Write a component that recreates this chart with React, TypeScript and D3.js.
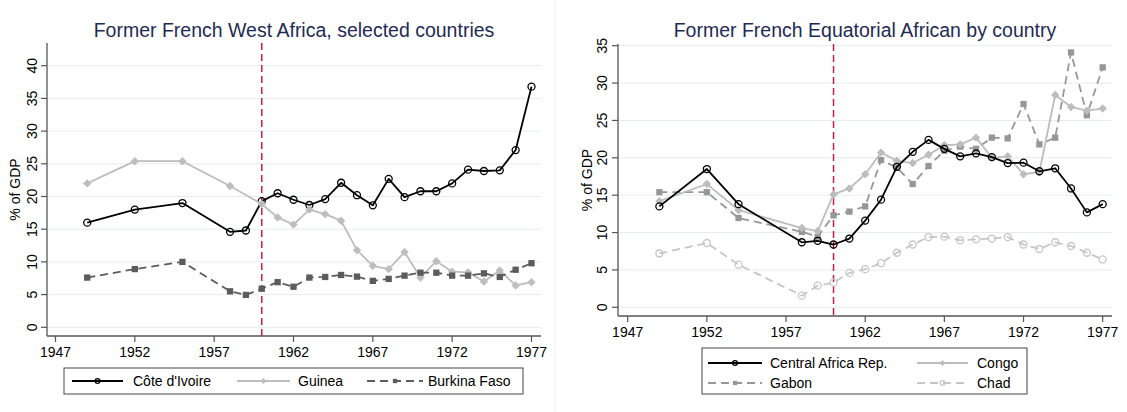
import React from "react";
import * as d3 from "d3";

// ---------- DATA ----------
const westYears = [1949, 1952, 1955, 1958, 1959, 1960, 1961, 1962, 1963, 1964, 1965, 1966, 1967, 1968, 1969, 1970, 1971, 1972, 1973, 1974, 1975, 1976, 1977];
const coteDIvoire = [16.0, 18.0, 19.0, 14.6, 14.8, 19.3, 20.5, 19.5, 18.7, 19.6, 22.1, 20.2, 18.65, 22.7, 19.9, 20.8, 20.8, 22.0, 24.1, 23.9, 24.0, 27.1, 36.8];
const guineaYears = [1949, 1952, 1955, 1958, 1960, 1961, 1962, 1963, 1964, 1965, 1966, 1967, 1968, 1969, 1970, 1971, 1972, 1973, 1974, 1975, 1976, 1977];
const guinea = [22.0, 25.4, 25.4, 21.6, 18.85, 16.8, 15.7, 18.0, 17.3, 16.3, 11.8, 9.4, 8.9, 11.5, 7.6, 10.1, 8.5, 8.4, 7.0, 8.7, 6.4, 6.9];
const burkinaFaso = [7.6, 8.9, 10.0, 5.5, 4.95, 5.9, 6.9, 6.2, 7.6, 7.7, 8.0, 7.75, 7.1, 7.4, 7.9, 8.35, 8.35, 7.9, 7.9, 8.25, 7.7, 8.8, 9.8];

const eqYears = [1949, 1952, 1954, 1958, 1959, 1960, 1961, 1962, 1963, 1964, 1965, 1966, 1967, 1968, 1969, 1970, 1971, 1972, 1973, 1974, 1975, 1976, 1977];
const centralAfricaRep = [13.5, 18.5, 13.8, 8.7, 8.9, 8.4, 9.2, 11.6, 14.4, 18.8, 20.8, 22.4, 21.2, 20.2, 20.6, 20.1, 19.3, 19.35, 18.2, 18.6, 15.9, 12.7, 13.8];
const congo = [14.2, 16.5, 13.0, 10.6, 10.2, 15.1, 15.9, 17.8, 20.7, 19.6, 19.3, 20.4, 21.7, 21.8, 22.7, 20.0, 20.2, 17.8, 18.1, 28.4, 26.8, 26.3, 26.6];
const gabon = [15.4, 15.4, 11.95, 10.1, 9.45, 12.3, 12.8, 13.5, 19.7, 18.7, 16.5, 18.9, 20.95, 21.5, 21.2, 22.7, 22.6, 27.2, 21.8, 22.7, 34.1, 25.7, 32.1];
const chad = [7.2, 8.6, 5.7, 1.56, 2.9, 3.3, 4.6, 5.1, 5.9, 7.3, 8.4, 9.4, 9.45, 8.96, 9.1, 9.2, 9.4, 8.4, 7.8, 8.7, 8.2, 7.3, 6.4];

const xTicks = [1947, 1952, 1957, 1962, 1967, 1972, 1977];
const westYTicks = [0, 5, 10, 15, 20, 25, 30, 35, 40];
const eqYTicks = [0, 5, 10, 15, 20, 25, 30, 35];
const independenceYear = 1960;

const westTitle = "Former French West Africa, selected countries";
const eqTitle = "Former French Equatorial African by country";
const yLabel = "% of GDP";

// ---------- STYLE ----------
const FONT = "'Liberation Sans', Arial, Helvetica, sans-serif";
const TITLE_COLOR = "#1f2b55";
const GRID = "#e3edef";
const AXIS = "#555";

type Marker = "circle" | "diamond" | "square";
interface Series {
  name: string;
  years: number[];
  values: number[];
  color: string;
  dash?: string;
  marker: Marker;
  width: number;
}

function MarkerShape({ type, x, y, color, size }: { type: Marker; x: number; y: number; color: string; size: number }) {
  if (type === "circle") {
    return <circle cx={x} cy={y} r={size} fill="none" stroke={color} strokeWidth={1.3} />;
  }
  if (type === "diamond") {
    const s = size * 1.2;
    return <path d={`M${x},${y - s}L${x + s},${y}L${x},${y + s}L${x - s},${y}Z`} fill={color} />;
  }
  const s = size * 0.9;
  return <rect x={x - s} y={y - s} width={2 * s} height={2 * s} fill={color} />;
}

interface PanelProps {
  title: string;
  titleX: number;
  x0: number; // pixel of 1947
  x1: number; // pixel of 1977
  axisX: number;
  plotRight: number;
  plotTop: number;
  axisY: number;
  yMax: number;
  yTop: number; // pixel of yMax
  yZero: number; // pixel of 0
  yTicks: number[];
  tickLabelX: number;
  yLabelX: number;
  series: Series[];
}

function Panel(p: PanelProps) {
  const x = d3.scaleLinear().domain([1947, 1977]).range([p.x0, p.x1]);
  const y = d3.scaleLinear().domain([0, p.yMax]).range([p.yZero, p.yTop]);
  const yMid = (p.plotTop + p.axisY) / 2;
  return (
    <g>
      <text x={p.titleX} y={37} textAnchor="middle" fontSize={19.5} fill={TITLE_COLOR} fontFamily={FONT}>
        {p.title}
      </text>
      {p.yTicks.map((t) => (
        <line key={"g" + t} x1={p.axisX} x2={p.plotRight} y1={y(t)} y2={y(t)} stroke={GRID} strokeWidth={1} />
      ))}
      {/* axes */}
      <line x1={p.axisX} x2={p.axisX} y1={p.plotTop} y2={p.axisY} stroke={AXIS} strokeWidth={1.3} />
      <line x1={p.axisX} x2={p.plotRight} y1={p.axisY} y2={p.axisY} stroke={AXIS} strokeWidth={1.3} />
      {p.yTicks.map((t) => (
        <g key={"yt" + t}>
          <line x1={p.axisX - 6} x2={p.axisX} y1={y(t)} y2={y(t)} stroke={AXIS} strokeWidth={1.2} />
          <text
            transform={`translate(${p.tickLabelX},${y(t)}) rotate(-90)`}
            textAnchor="middle"
            dominantBaseline="central"
            fontSize={14}
            fontFamily={FONT}
            fill="#000"
          >
            {t}
          </text>
        </g>
      ))}
      {xTicks.map((t) => (
        <g key={"xt" + t}>
          <line x1={x(t)} x2={x(t)} y1={p.axisY} y2={p.axisY + 6} stroke={AXIS} strokeWidth={1.2} />
          <text x={x(t)} y={p.axisY + 21} textAnchor="middle" fontSize={14} fontFamily={FONT} fill="#000">
            {t}
          </text>
        </g>
      ))}
      <text
        transform={`translate(${p.yLabelX},${yMid}) rotate(-90)`}
        textAnchor="middle"
        dominantBaseline="central"
        fontSize={14}
        fontFamily={FONT}
        fill="#000"
      >
        {yLabel}
      </text>
      {/* independence line */}
      <line
        x1={x(independenceYear)}
        x2={x(independenceYear)}
        y1={p.plotTop}
        y2={p.axisY}
        stroke="#cc1f45"
        strokeWidth={1.5}
        strokeDasharray="7,4"
      />
      {p.series.map((s) => {
        const pts: [number, number][] = s.years.map((yr, i) => [x(yr), y(s.values[i])]);
        const path = d3.line()(pts) || "";
        return (
          <g key={s.name}>
            <path d={path} fill="none" stroke={s.color} strokeWidth={s.width} strokeDasharray={s.dash} strokeLinejoin="round" />
            {pts.map(([px, py], i) => (
              <MarkerShape key={i} type={s.marker} x={px} y={py} color={s.color} size={3.5} />
            ))}
          </g>
        );
      })}
    </g>
  );
}

function LegendItem({ s, lx0, lx1, ty, tx }: { s: Series; lx0: number; lx1: number; ty: number; tx: number }) {
  return (
    <g>
      <line x1={lx0} x2={lx1} y1={ty} y2={ty} stroke={s.color} strokeWidth={s.width} strokeDasharray={s.dash} />
      <MarkerShape type={s.marker} x={(lx0 + lx1) / 2} y={ty} color={s.color} size={2.4} />
      <text x={tx} y={ty} dominantBaseline="central" fontSize={14} fontFamily={FONT} fill="#000">
        {s.name}
      </text>
    </g>
  );
}

export default function App() {
  const westSeries: Series[] = [
    { name: "Côte d'Ivoire", years: westYears, values: coteDIvoire, color: "#000", marker: "circle", width: 1.8 },
    { name: "Guinea", years: guineaYears, values: guinea, color: "#bdbdbd", marker: "diamond", width: 1.8 },
    { name: "Burkina Faso", years: westYears, values: burkinaFaso, color: "#5c5c5c", marker: "square", width: 1.8, dash: "8,5" },
  ];
  const eqSeries: Series[] = [
    { name: "Chad", years: eqYears, values: chad, color: "#c6c6c6", marker: "circle", width: 1.8, dash: "8,5" },
    { name: "Gabon", years: eqYears, values: gabon, color: "#979797", marker: "square", width: 1.8, dash: "8,5" },
    { name: "Congo", years: eqYears, values: congo, color: "#bdbdbd", marker: "diamond", width: 1.8 },
    { name: "Central Africa Rep.", years: eqYears, values: centralAfricaRep, color: "#000", marker: "circle", width: 1.8 },
  ];
  const [chadS, gabonS, congoS, carS] = eqSeries;
  return (
    <svg width={1127} height={412} style={{ display: "block", position: "absolute", left: 0, top: 0, background: "#fff" }}>
      <rect x={0} y={0} width={1127} height={412} fill="#fff" />
      <line x1={555} x2={555} y1={0} y2={412} stroke="#efefef" strokeWidth={1} />
      <Panel
        title={westTitle}
        titleX={294}
        x0={55.5}
        x1={531.5}
        axisX={47}
        plotRight={541}
        plotTop={43}
        axisY={336}
        yMax={40}
        yTop={65.7}
        yZero={327.3}
        yTicks={westYTicks}
        tickLabelX={31.5}
        yLabelX={15}
        series={westSeries}
      />
      <Panel
        title={eqTitle}
        titleX={865}
        x0={627.7}
        x1={1102.7}
        axisX={618}
        plotRight={1112}
        plotTop={44}
        axisY={316}
        yMax={35}
        yTop={45.7}
        yZero={307.3}
        yTicks={eqYTicks}
        tickLabelX={602}
        yLabelX={586.5}
        series={eqSeries}
      />
      {/* West legend */}
      <rect x={64} y={368} width={459} height={26} fill="#fff" stroke="#444" strokeWidth={1} />
      <LegendItem s={westSeries[0]} lx0={72} lx1={123} ty={381} tx={133} />
      <LegendItem s={westSeries[1]} lx0={237} lx1={290} ty={381} tx={298} />
      <LegendItem s={westSeries[2]} lx0={367} lx1={423} ty={381} tx={428} />
      {/* Equatorial legend */}
      <rect x={702} y={348} width={325} height={46} fill="#fff" stroke="#444" strokeWidth={1} />
      <LegendItem s={carS} lx0={708} lx1={762} ty={363} tx={770} />
      <LegendItem s={congoS} lx0={917} lx1={968} ty={363} tx={977} />
      <LegendItem s={gabonS} lx0={708} lx1={762} ty={383} tx={770} />
      <LegendItem s={chadS} lx0={917} lx1={968} ty={383} tx={977} />
    </svg>
  );
}
